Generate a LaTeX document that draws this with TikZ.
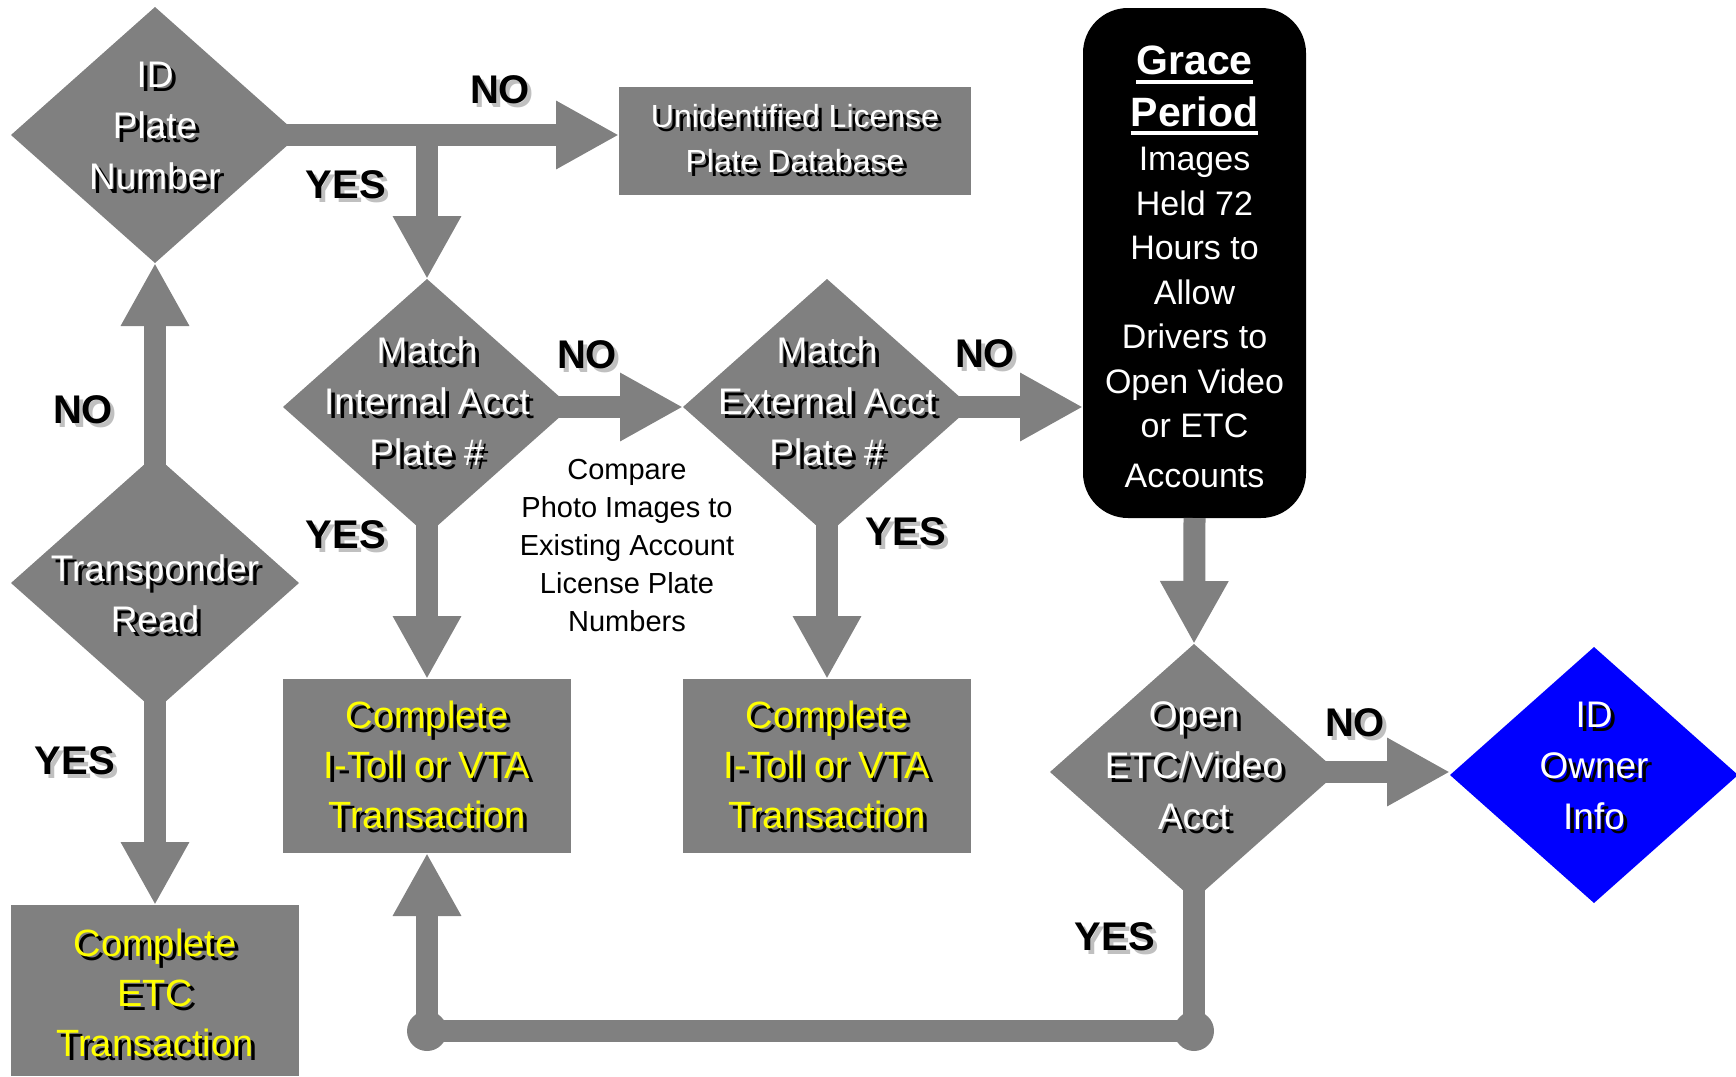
\documentclass[tikz,border=0pt]{standalone}
\usepackage{fontspec}
\setmainfont{Liberation Sans}
\usetikzlibrary{shapes.geometric}
\usetikzlibrary{arrows.meta}
\definecolor{gr}{HTML}{808080}
\definecolor{lgr}{HTML}{C0C0C0}
\definecolor{yel}{HTML}{FFFF00}
\definecolor{blu}{HTML}{0000FF}
\newcommand\sh[2][black]{\leavevmode\rlap{\kern4pt\raisebox{-4pt}{\color{#1}#2}}#2}
\newcommand\ul[1]{\setbox0\hbox{#1}\rlap{\rule[-9pt]{\wd0}{4pt}}\box0}
\tikzset{
    dia/.style={diamond,fill=gr,minimum width=288pt,minimum height=256pt,inner sep=0pt,outer sep=0pt},
    box/.style={rectangle,fill=gr,inner sep=0pt,outer sep=0pt},
    txt/.style={inner sep=0pt,align=center,text=white,font=\fontsize{37}{51}\selectfont},
    lab/.style={inner sep=0pt,font=\bfseries\fontsize{40}{48}\selectfont},
    arr/.style={draw=gr,line width=22pt,-{Triangle[length=63pt,width=64pt]}},
    from dia/.style={shorten <=-13pt}
}
\begin{document}
\begin{tikzpicture}[x=1pt,y=-1pt]
\useasboundingbox (0,0) rectangle (1736,1076);
% shapes
\node[dia] (id) at (155,135) {}; \node[dia] (tr) at (155,583) {};
\node[dia] (int) at (427,407) {}; \node[dia] (ext) at (827,407) {};
\node[dia] (open) at (1194,772) {}; \node[dia,fill=blu] (own) at (1594,775) {};
\node[box,minimum width=352pt,minimum height=108pt] (unid) at (795,141) {};
\node[box,minimum width=288pt,minimum height=171pt] (etc) at (155,990.5) {};
\node[box,minimum width=288pt,minimum height=174pt] (it1) at (427,766) {};
\node[box,minimum width=288pt,minimum height=174pt] (it2) at (827,766) {};
\node[fill=black,rounded corners=45pt,minimum width=223pt,minimum height=510pt,inner sep=0pt,outer sep=0pt] (grace) at (1194.5,263) {};
% arrows
\draw[arr,from dia] (id.east) -- (id.east -| unid.west);
\draw[arr] (id.east -| int.north) -- (int.north);
\draw[arr,from dia] (tr.north) -- (id.south);
\draw[arr,from dia] (tr.south) -- (etc.north);
\draw[arr,from dia] (int.south) -- (it1.north);
\draw[arr,from dia] (int.east) -- (ext.west);
\draw[arr,from dia] (ext.east) -- (ext.east -| grace.west);
\draw[arr,from dia] (ext.south) -- (it2.north);
\draw[arr] (grace.south) -- (open.north);
\draw[arr,from dia] (open.east) -- (open.east -| own.west);
\coordinate (lr) at (1194,1031); \coordinate (ll) at (427,1031);
\draw[arr,from dia] (open.south) -- (lr) -- (ll) -- (it1.south);
\fill[gr] (lr) circle (20); \fill[gr] (ll) circle (20);
% texts
\node[txt] (idt) at (155,128) {\sh{ID}\\\sh{Plate}\\\sh{Number}};
\node[txt] (trt) at (155,596) {\sh{Transponder}\\\sh{Read}};
\node[txt] (intt) at (427,403) {\sh{Match}\\\sh{Internal Acct}\\\sh{Plate \#}};
\node[txt] (extt) at (827,403) {\sh{Match}\\\sh{External Acct}\\\sh{Plate \#}};
\node[txt] (opent) at (1194,768) {\sh{Open}\\\sh{ETC/Video}\\\sh{Acct}};
\node[txt] (ownt) at (1594,768) {\sh{ID}\\\sh{Owner}\\\sh{Info}};
\node[txt,font=\fontsize{32}{45}\selectfont] (unidt) at (795,141) {\sh{Unidentified License}\\\sh{Plate Database}};
\node[txt,text=yel,font=\fontsize{38}{50}\selectfont] (etct) at (155,995) {\sh{Complete}\\\sh{ETC}\\\sh{Transaction}};
\node[txt,text=yel,font=\fontsize{38}{50}\selectfont] (it1t) at (427,767) {\sh{Complete}\\\sh{I-Toll or VTA}\\\sh{Transaction}};
\node[txt,text=yel,font=\fontsize{38}{50}\selectfont] (it2t) at (827,767) {\sh{Complete}\\\sh{I-Toll or VTA}\\\sh{Transaction}};
\node[txt,font=\fontsize{34}{44.5}\selectfont] (gracet) at (1194.5,267) {{\bfseries\fontsize{41}{46}\selectfont\ul{Grace}}\\[7pt]{\bfseries\fontsize{41}{46}\selectfont\ul{Period}}\\Images\\Held 72\\Hours to\\Allow\\Drivers to\\Open Video\\or ETC\\[5pt]Accounts};
\node[txt,text=black,font=\fontsize{29}{38}\selectfont] (cmp) at (627,546) {Compare\\Photo Images to\\Existing Account\\License Plate\\Numbers};
% labels
\node[lab] (no1) at (500,92) {\sh[lgr]{NO}};
\node[lab] (yes1) at (346,187) {\sh[lgr]{YES}};
\node[lab] (no2) at (83,412) {\sh[lgr]{NO}};
\node[lab] (yes2) at (75,763) {\sh[lgr]{YES}};
\node[lab] (no3) at (587,357) {\sh[lgr]{NO}};
\node[lab] (yes3) at (346,537) {\sh[lgr]{YES}};
\node[lab] (no4) at (985,356) {\sh[lgr]{NO}};
\node[lab] (yes4) at (906,534) {\sh[lgr]{YES}};
\node[lab] (no5) at (1355,725) {\sh[lgr]{NO}};
\node[lab] (yes5) at (1115,939) {\sh[lgr]{YES}};
\end{tikzpicture}
\end{document}
